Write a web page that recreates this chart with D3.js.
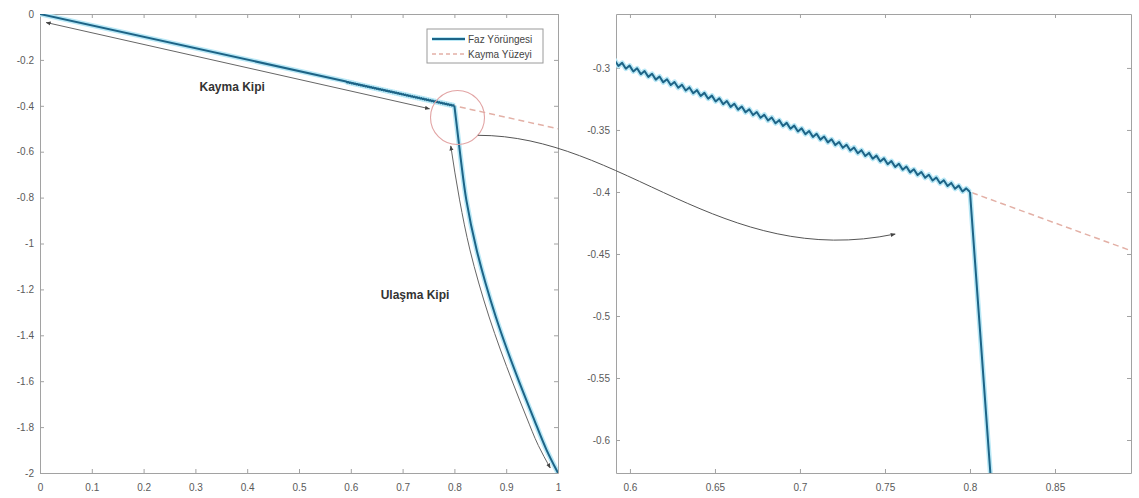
<!DOCTYPE html>
<html>
<head>
<meta charset="utf-8">
<script src="https://cdn.jsdelivr.net/npm/d3@7"></script>
<style>
  html, body { margin: 0; padding: 0; background: #fff; }
  svg { display: block; font-family: "Liberation Sans", Arial, sans-serif; }
</style>
</head>
<body>
<svg id="chart" width="1139" height="498"></svg>
<script>
// Reaching phase: trajectory from the initial state up to the sliding surface
const reachX = [1.0, 0.978, 0.952, 0.926, 0.902, 0.880, 0.860, 0.843, 0.823, 0.812, 0.800];
const reachY = [-2.0, -1.900, -1.756, -1.608, -1.464, -1.320, -1.172, -1.028, -0.810, -0.627, -0.400];

// Sliding phase: chattering along the surface (vertices of the zig-zag)
const chatterX = [0.8000,0.7978,0.7956,0.7934,0.7912,0.7890,0.7868,0.7846,0.7824,0.7802,
  0.7780,0.7758,0.7736,0.7714,0.7692,0.7670,0.7648,0.7626,0.7604,0.7582,
  0.7560,0.7538,0.7516,0.7494,0.7472,0.7450,0.7428,0.7406,0.7384,0.7362,
  0.7340,0.7318,0.7296,0.7274,0.7252,0.7230,0.7208,0.7186,0.7164,0.7142,
  0.7120,0.7098,0.7076,0.7054,0.7032,0.7010,0.6988,0.6966,0.6944,0.6922,
  0.6900,0.6878,0.6856,0.6834,0.6812,0.6790,0.6768,0.6746,0.6724,0.6702,
  0.6680,0.6658,0.6636,0.6614,0.6592,0.6570,0.6548,0.6526,0.6504,0.6482,
  0.6460,0.6438,0.6416,0.6394,0.6372,0.6350,0.6328,0.6306,0.6284,0.6262,
  0.6240,0.6218,0.6196,0.6174,0.6152,0.6130,0.6108,0.6086,0.6064,0.6042,
  0.6020,0.5998,0.5976,0.5954,0.5932,0.5910];
const chatterY = [-0.4000,-0.3971,-0.3996,-0.3949,-0.3974,-0.3927,-0.3952,-0.3905,-0.3930,-0.3883,
  -0.3908,-0.3861,-0.3886,-0.3839,-0.3864,-0.3817,-0.3842,-0.3795,-0.3820,-0.3773,
  -0.3798,-0.3751,-0.3776,-0.3729,-0.3754,-0.3707,-0.3732,-0.3685,-0.3710,-0.3663,
  -0.3688,-0.3641,-0.3666,-0.3619,-0.3644,-0.3597,-0.3622,-0.3575,-0.3600,-0.3553,
  -0.3578,-0.3531,-0.3556,-0.3509,-0.3534,-0.3487,-0.3512,-0.3465,-0.3490,-0.3443,
  -0.3468,-0.3421,-0.3446,-0.3399,-0.3424,-0.3377,-0.3402,-0.3355,-0.3380,-0.3333,
  -0.3358,-0.3311,-0.3336,-0.3289,-0.3314,-0.3267,-0.3292,-0.3245,-0.3270,-0.3223,
  -0.3248,-0.3201,-0.3226,-0.3179,-0.3204,-0.3157,-0.3182,-0.3135,-0.3160,-0.3113,
  -0.3138,-0.3091,-0.3116,-0.3069,-0.3094,-0.3047,-0.3072,-0.3025,-0.3050,-0.3003,
  -0.3028,-0.2981,-0.3006,-0.2959,-0.2984,-0.2937];

// Final approach to the origin
const endX = [0];
const endY = [0];

// Sliding surface s = x2 + 0.5 x1 = 0
const surfX = [0, 1];
const surfY = [0, -0.5];

// Tick values
const leftXTicks = [0, 0.1, 0.2, 0.3, 0.4, 0.5, 0.6, 0.7, 0.8, 0.9, 1];
const leftYTicks = [0, -0.2, -0.4, -0.6, -0.8, -1, -1.2, -1.4, -1.6, -1.8, -2];
const rightXTicks = [0.6, 0.65, 0.7, 0.75, 0.8, 0.85];
const rightYTicks = [-0.3, -0.35, -0.4, -0.45, -0.5, -0.55, -0.6];

// Legend entries
const legendLabels = ["Faz Yörüngesi", "Kayma Yüzeyi"];

// Annotation arrows (data coordinates of the left panel)
const slideArrowX = [0.012, 0.752];
const slideArrowY = [-0.037, -0.413];
const reachArrowX = [0.793, 0.810, 0.830, 0.847, 0.867, 0.889, 0.913, 0.939, 0.962, 0.985];
const reachArrowY = [-0.575, -0.810, -1.028, -1.172, -1.320, -1.464, -1.608, -1.756, -1.880, -1.978];

const reach = reachX.map((x, i) => [x, reachY[i]]);
const slideX = chatterX.concat(endX);
const slideY = chatterY.concat(endY);
const slide = slideX.map((x, i) => [x, slideY[i]]);
const surf = surfX.map((x, i) => [x, surfY[i]]);

const svg = d3.select("#chart");
const BLUE = "#1d6487", HALO = "#b9e8f6", SURF = "#e3b0a6";
const AXIS = "#a2a2a2", LABEL = "#5a5a5a";

const defs = svg.append("defs");
defs.append("marker")
  .attr("id", "ah").attr("viewBox", "0 0 10 10").attr("refX", 9).attr("refY", 5)
  .attr("markerWidth", 5).attr("markerHeight", 5)
  .attr("orient", "auto-start-reverse")
  .append("path").attr("d", "M0,1 L10,5 L0,9 Z").attr("fill", "#444");

function panel(id, box, xDom, yDom, xTicks, yTicks) {
  const x = d3.scaleLinear().domain(xDom).range([box.x0, box.x1]);
  const y = d3.scaleLinear().domain(yDom).range([box.y1, box.y0]);
  defs.append("clipPath").attr("id", id)
    .append("rect").attr("x", box.x0).attr("y", box.y0)
    .attr("width", box.x1 - box.x0).attr("height", box.y1 - box.y0);
  const g = svg.append("g");
  const fmt = d => String(+d.toFixed(2));

  const ax = [
    g.append("g").attr("transform", `translate(0,${box.y1})`)
      .call(d3.axisBottom(x).tickValues(xTicks).tickFormat(fmt).tickSizeInner(-4).tickSizeOuter(0).tickPadding(11)),
    g.append("g").attr("transform", `translate(0,${box.y0})`)
      .call(d3.axisTop(x).tickValues(xTicks).tickFormat("").tickSizeInner(-4).tickSizeOuter(0)),
    g.append("g").attr("transform", `translate(${box.x0},0)`)
      .call(d3.axisLeft(y).tickValues(yTicks).tickFormat(fmt).tickSizeInner(-4).tickSizeOuter(0).tickPadding(6)),
    g.append("g").attr("transform", `translate(${box.x1},0)`)
      .call(d3.axisRight(y).tickValues(yTicks).tickFormat("").tickSizeInner(-4).tickSizeOuter(0))
  ];
  ax.forEach(a => {
    a.select(".domain").attr("stroke", AXIS);
    a.selectAll(".tick line").attr("stroke", AXIS);
    a.selectAll(".tick text").attr("fill", LABEL).attr("font-size", 10)
      .attr("font-family", "'Liberation Sans', Arial, sans-serif");
  });

  const plot = g.append("g").attr("clip-path", `url(#${id})`);
  const line = d3.line().x(d => x(d[0])).y(d => y(d[1]));
  const smooth = d3.line().x(d => x(d[0])).y(d => y(d[1])).curve(d3.curveMonotoneY);
  plot.append("path").datum(surf).attr("d", line)
    .attr("fill", "none").attr("stroke", SURF).attr("stroke-width", 1.5)
    .attr("stroke-dasharray", "6,4");
  [[HALO, 5], [BLUE, 2]].forEach(([c, w]) => {
    plot.append("path").datum(reach).attr("d", smooth)
      .attr("fill", "none").attr("stroke", c).attr("stroke-width", w)
      .attr("stroke-linejoin", "round");
    plot.append("path").datum(slide).attr("d", line)
      .attr("fill", "none").attr("stroke", c).attr("stroke-width", w)
      .attr("stroke-linejoin", "round");
  });
  return { x, y, g };
}

const L = panel("clipL", { x0: 40, x1: 558, y0: 14, y1: 473 }, [0, 1], [-2, 0], leftXTicks, leftYTicks);
const R = panel("clipR", { x0: 616, x1: 1131, y0: 14, y1: 473 }, [0.5918, 0.8947], [-0.6266, -0.2565], rightXTicks, rightYTicks);

// Mode labels
L.g.append("text").attr("x", L.x(0.371)).attr("y", L.y(-0.318)).attr("dy", "0.35em")
  .attr("text-anchor", "middle").attr("font-weight", "bold").attr("font-size", 12)
  .attr("fill", "#333").text("Kayma Kipi");
L.g.append("text").attr("x", L.x(0.724)).attr("y", L.y(-1.224)).attr("dy", "0.35em")
  .attr("text-anchor", "middle").attr("font-weight", "bold").attr("font-size", 12)
  .attr("fill", "#333").text("Ulaşma Kipi");

// Double-headed annotation arrows
const annLine = d3.line().x(d => L.x(d[0])).y(d => L.y(d[1]));
L.g.append("path").datum(slideArrowX.map((v, i) => [v, slideArrowY[i]]))
  .attr("d", annLine).attr("fill", "none").attr("stroke", "#666").attr("stroke-width", 1)
  .attr("marker-start", "url(#ah)").attr("marker-end", "url(#ah)");
L.g.append("path").datum(reachArrowX.map((v, i) => [v, reachArrowY[i]]))
  .attr("d", d3.line().x(d => L.x(d[0])).y(d => L.y(d[1])).curve(d3.curveMonotoneY))
  .attr("fill", "none").attr("stroke", "#666").attr("stroke-width", 1)
  .attr("marker-start", "url(#ah)").attr("marker-end", "url(#ah)");

// Zoom circle around the reaching point and connector to the detail panel
const cx = L.x(0.806), cy = L.y(-0.451), cr = 27;
svg.append("circle").attr("cx", cx).attr("cy", cy).attr("r", cr)
  .attr("fill", "none").attr("stroke", "#e2a4a4").attr("stroke-width", 1.1);
const a0 = 0.72;
const p0 = [cx + cr * Math.cos(a0), cy + cr * Math.sin(a0)];
const p3 = [R.x(0.756), R.y(-0.4339)];
const c1 = [R.x(0.5953), R.y(-0.3540)];
const c2 = [R.x(0.6541), R.y(-0.4630)];
const conn = d3.path();
conn.moveTo(p0[0], p0[1]);
conn.bezierCurveTo(c1[0], c1[1], c2[0], c2[1], p3[0], p3[1]);
svg.append("path").attr("d", conn.toString()).attr("fill", "none")
  .attr("stroke", "#555").attr("stroke-width", 1).attr("marker-end", "url(#ah)");

// Legend
const lg = svg.append("g").attr("transform", "translate(427,29)");
lg.append("rect").attr("width", 116).attr("height", 34)
  .attr("fill", "#fff").attr("stroke", "#9a9a9a").attr("stroke-width", 1);
legendLabels.forEach((t, i) => {
  const yy = 10 + i * 15;
  if (i === 0) {
    lg.append("line").attr("x1", 5).attr("x2", 38).attr("y1", yy).attr("y2", yy)
      .attr("stroke", HALO).attr("stroke-width", 4);
    lg.append("line").attr("x1", 5).attr("x2", 38).attr("y1", yy).attr("y2", yy)
      .attr("stroke", BLUE).attr("stroke-width", 2);
  } else {
    lg.append("line").attr("x1", 5).attr("x2", 38).attr("y1", yy).attr("y2", yy)
      .attr("stroke", SURF).attr("stroke-width", 1.3).attr("stroke-dasharray", "4,3");
  }
  lg.append("text").attr("x", 41).attr("y", yy).attr("dy", "0.35em")
    .attr("font-size", 10).attr("fill", "#444").text(t);
});
</script>
</body>
</html>
